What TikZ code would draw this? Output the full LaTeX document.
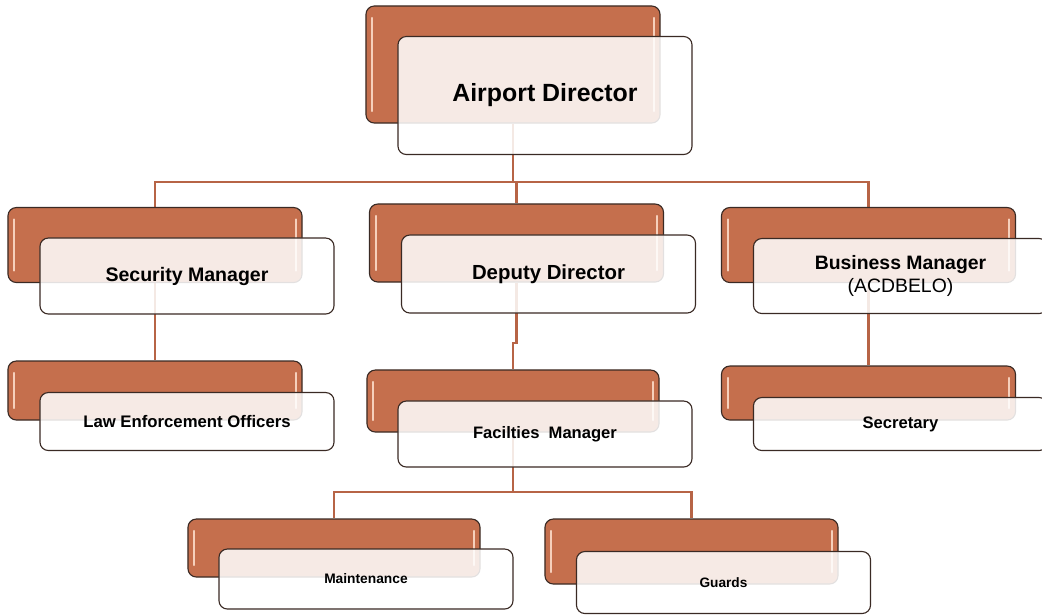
\documentclass[tikz,border=0pt]{standalone}
\usepackage{fontspec}
\setmainfont{Liberation Sans}
\usetikzlibrary{positioning,backgrounds,calc}

\definecolor{boxorange}{RGB}{197,111,77}
\definecolor{boxedge}{RGB}{58,42,36}
\definecolor{glossy}{RGB}{246,208,188}
\definecolor{linkbrown}{RGB}{183,100,70}

\tikzset{
  backbox/.style={draw=boxedge, line width=0.8pt, fill=boxorange, rounded corners=6pt, inner sep=0pt,
    path picture={
      \draw[glossy, line width=1.6pt, line cap=round] ([xshift=0.16cm,yshift=-0.3cm]path picture bounding box.north west) -- ([xshift=0.16cm,yshift=0.3cm]path picture bounding box.south west);
      \draw[glossy, line width=1.6pt, line cap=round] ([xshift=-0.16cm,yshift=-0.3cm]path picture bounding box.north east) -- ([xshift=-0.16cm,yshift=0.3cm]path picture bounding box.south east);
    }},
  frontbox/.style={draw=boxedge, line width=0.8pt, fill=white, fill opacity=0.86, text opacity=1, rounded corners=6pt,
    inner sep=0pt, minimum width=7.35cm, align=center},
  link/.style={draw=linkbrown, line width=1.6pt}
}

\begin{document}
\begin{tikzpicture}[x=0.025cm, y=-0.025cm]
        \useasboundingbox (0,0) rectangle (1042,614);

        % top
        \node[backbox, style={minimum width=7.35cm, minimum height=2.925cm}] (dirB) at (513,64.5) {};
        \node[frontbox, style={minimum height=2.95cm}, font=\bfseries\fontsize{17.7}{20}\selectfont] (dir) at ([shift={(32,31)}]dirB) {Airport Director};

        % second row
        \node[backbox, style={minimum width=7.35cm, minimum height=1.875cm}] (secB) at (155,245) {};
        \node[frontbox, style={minimum height=1.9cm}, font=\bfseries\fontsize{13.9}{16}\selectfont] (sec) at ([shift={(32,31)}]secB) {Security Manager};
        \node[backbox, style={minimum width=7.35cm, minimum height=1.95cm}] (depB) at (516.5,243) {};
        \node[frontbox, style={minimum height=1.95cm}, font=\bfseries\fontsize{14.5}{16}\selectfont] (dep) at ([shift={(32,31)}]depB) {Deputy Director};
        \node[backbox, style={minimum width=7.35cm, minimum height=1.875cm}] (busB) at (868.5,245) {};
        \node[frontbox, style={minimum height=1.875cm}, font=\bfseries\fontsize{13.8}{16.3}\selectfont] (bus) at ([shift={(32,31)}]busB) {Business Manager\\{\mdseries (ACDBELO)}};

        % third row
        \node[backbox, style={minimum width=7.35cm, minimum height=1.475cm}] (lawB) at (155,390.5) {};
        \node[frontbox, style={minimum height=1.45cm}, font=\bfseries\fontsize{11.9}{14}\selectfont] (law) at ([shift={(32,31)}]lawB) {Law Enforcement Officers};
        \node[backbox, style={minimum width=7.3cm, minimum height=1.55cm}] (facB) at (513,401) {};
        \node[frontbox, style={minimum height=1.65cm}, font=\bfseries\fontsize{11.8}{14}\selectfont] (fac) at ([shift={(32,33)}]facB) {Facilties\ \ Manager};
        \node[backbox, style={minimum width=7.35cm, minimum height=1.35cm}] (sktB) at (868.5,393) {};
        \node[frontbox, style={minimum height=1.325cm}, font=\bfseries\fontsize{11.8}{14}\selectfont] (skt) at ([shift={(32,31)}]sktB) {Secretary};

        % bottom row
        \node[backbox, style={minimum width=7.3cm, minimum height=1.45cm}] (maiB) at (334,548) {};
        \node[frontbox, style={minimum height=1.5cm}, font=\bfseries\fontsize{9.8}{12}\selectfont] (mai) at ([shift={(32,31)}]maiB) {Maintenance};
        \node[backbox, style={minimum width=7.325cm, minimum height=1.625cm}] (guaB) at (691.5,551.5) {};
        \node[frontbox, style={minimum height=1.55cm}, font=\bfseries\fontsize{9.7}{12}\selectfont] (gua) at ([shift={(32,31)}]guaB) {Guards};

        \coordinate (bus1) at (0,182);
        \coordinate (jog) at (0,343);
        \coordinate (bus2) at (0,492);

        \begin{scope}[on background layer]
          \draw[link] (dirB.south) -- (dirB.south |- bus1) -| (secB.north);
          \draw[link] (dirB.south |- bus1) -| (depB.north);
          \draw[link] (dirB.south |- bus1) -| (busB.north);
          \draw[link] (secB.south) -- (lawB.north);
          \draw[link] (busB.south) -- (sktB.north);
          \draw[link] (depB.south) -- (depB.south |- jog) -| (facB.north);
          \draw[link] (facB.south) -- (facB.south |- bus2) -| (maiB.north);
          \draw[link] (facB.south |- bus2) -| (guaB.north);
        \end{scope}

        \end{tikzpicture}
\end{document}
